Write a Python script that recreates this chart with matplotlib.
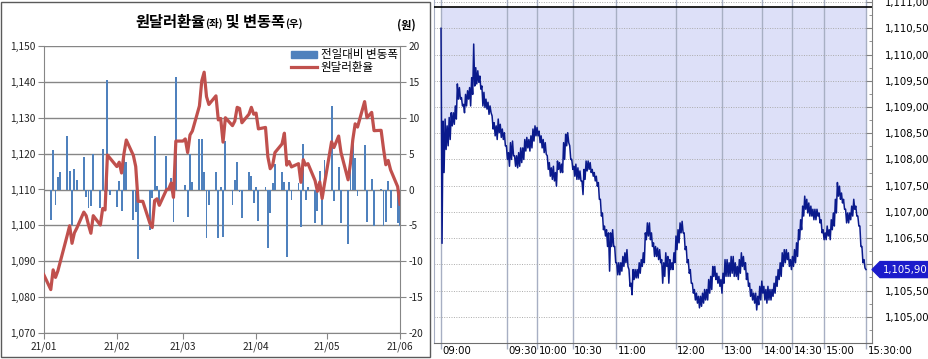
import numpy as np
import pandas as pd
import matplotlib
matplotlib.use("Agg")
import matplotlib.pyplot as plt
import matplotlib.dates as mdates
from matplotlib import font_manager
from matplotlib.lines import Line2D
from matplotlib.patches import Patch, Rectangle, Polygon
from matplotlib.ticker import FuncFormatter, MultipleLocator, FixedLocator
from matplotlib.transforms import blended_transform_factory, offset_copy
from matplotlib.offsetbox import TextArea, HPacker, AnchoredOffsetbox

plt.rcParams['font.family'] = ['Noto Sans CJK KR', 'DejaVu Sans']
plt.rcParams['axes.unicode_minus'] = False

installed = {f.name for f in font_manager.fontManager.ttflist}
if 'Liberation Sans Narrow' in installed:
    NUM_FONT, NUM_SIZE = 'Liberation Sans Narrow', 9.0
else:
    NUM_FONT, NUM_SIZE = 'DejaVu Sans', 7.3

# ---- daily data (left chart) ----
trade_dates = [
    '2021-01-01', '2021-01-04', '2021-01-05', '2021-01-06', '2021-01-07', '2021-01-08',
    '2021-01-11', '2021-01-12', '2021-01-13', '2021-01-14', '2021-01-15',
    '2021-01-18', '2021-01-19', '2021-01-20', '2021-01-21', '2021-01-22',
    '2021-01-25', '2021-01-26', '2021-01-27', '2021-01-28', '2021-01-29',
    '2021-02-01', '2021-02-02', '2021-02-03', '2021-02-04', '2021-02-05',
    '2021-02-08', '2021-02-09', '2021-02-10', '2021-02-11', '2021-02-12',
    '2021-02-15', '2021-02-16', '2021-02-17', '2021-02-18', '2021-02-19',
    '2021-02-22', '2021-02-23', '2021-02-24', '2021-02-25', '2021-02-26',
    '2021-03-01', '2021-03-02', '2021-03-03', '2021-03-04', '2021-03-05',
    '2021-03-08', '2021-03-09', '2021-03-10', '2021-03-11', '2021-03-12',
    '2021-03-15', '2021-03-16', '2021-03-17', '2021-03-18', '2021-03-19',
    '2021-03-22', '2021-03-23', '2021-03-24', '2021-03-25', '2021-03-26',
    '2021-03-29', '2021-03-30', '2021-03-31', '2021-04-01', '2021-04-02',
    '2021-04-05', '2021-04-06', '2021-04-07', '2021-04-08', '2021-04-09',
    '2021-04-12', '2021-04-13', '2021-04-14', '2021-04-15', '2021-04-16',
    '2021-04-19', '2021-04-20', '2021-04-21', '2021-04-22', '2021-04-23',
    '2021-04-26', '2021-04-27', '2021-04-28', '2021-04-29', '2021-04-30',
    '2021-05-03', '2021-05-04', '2021-05-06', '2021-05-07',
    '2021-05-10', '2021-05-11', '2021-05-12', '2021-05-13', '2021-05-14',
    '2021-05-17', '2021-05-18', '2021-05-20', '2021-05-21',
    '2021-05-24', '2021-05-25', '2021-05-26', '2021-05-27', '2021-05-28',
    '2021-05-31', '2021-06-01',
]
usdkrw_close = [
    1086.3, 1082.1, 1087.6, 1085.5, 1087.3, 1089.8,
    1097.3, 1099.9, 1095.0, 1097.9, 1099.2,
    1103.7, 1102.7, 1100.1, 1097.8, 1102.7,
    1100.1, 1104.7, 1104.3, 1119.6, 1118.8,
    1116.4, 1117.6, 1114.6, 1119.9, 1123.8,
    1119.5, 1116.4, 1106.7, 1106.7, 1106.7,
    1100.6, 1099.4, 1106.9, 1107.4, 1105.6,
    1109.9, 1110.2, 1111.8, 1107.8, 1123.5,
    1123.5, 1124.1, 1120.3, 1125.2, 1126.3,
    1133.3, 1140.3, 1142.7, 1135.9, 1133.7,
    1136.1, 1129.4, 1129.8, 1123.2, 1130.0,
    1127.8, 1129.1, 1132.9, 1132.6, 1128.6,
    1131.0, 1132.9, 1131.0, 1131.3, 1126.9,
    1127.3, 1119.1, 1115.8, 1116.7, 1120.3,
    1122.7, 1125.7, 1116.8, 1117.8, 1116.3,
    1117.2, 1112.0, 1118.3, 1116.8, 1117.2,
    1112.5, 1109.5, 1112.1, 1107.5, 1111.6,
    1123.3, 1121.7, 1124.9, 1120.3,
    1112.7, 1117.3, 1123.9, 1128.3, 1127.4,
    1134.5, 1130.0, 1131.5, 1126.4,
    1126.5, 1121.4, 1116.9, 1118.1, 1115.5,
    1110.8, 1105.9,
]
daily_change = [
    np.nan, -4.2, 5.5, -2.1, 1.8, 2.5,
    7.5, 2.6, -4.9, 2.9, 1.3,
    4.5, -1.0, -2.6, -2.3, 4.9,
    -2.6, 5.7, -0.4, 15.3, -0.8,
    -2.4, 1.2, -3.0, 5.3, 3.9,
    -4.3, -3.1, -9.7, 0.0, 0.0,
    -5.6, -1.2, 7.5, 0.5, -1.8,
    4.6, 0.3, 1.6, -4.5, 15.7,
    0.0, 0.6, -3.8, 4.9, 1.1,
    7.0, 7.0, 2.4, -6.8, -2.2,
    2.4, -6.7, 0.4, -6.6, 6.8,
    -2.2, 1.3, 3.8, -0.3, -4.0,
    2.4, 1.9, -1.9, 0.3, -4.4,
    0.4, -8.2, -3.3, 0.9, 3.6,
    2.4, 1.0, -9.4, 1.0, -1.5,
    0.9, -5.2, 6.3, -1.5, 0.4,
    -4.7, -3.0, 2.6, -4.9, 4.1,
    11.7, -1.6, 3.2, -4.6,
    -7.6, 4.6, 6.6, 4.4, -0.9,
    6.2, -4.5, 1.5, -5.1,
    0.1, -5.1, -4.5, 1.2, -2.6,
    -4.7, -5.1,
]
month_labels_fmt = '%y/%m'

# ---- intraday data (right chart), read left to right ----
open_spike = [1110.50, 1106.40]
tick_hi = [
    1108.73, 1108.77, 1108.64, 1108.80, 1108.89, 1108.89, 1109.02, 1109.44, 1109.37, 1109.18,
    1109.05, 1109.24, 1109.31, 1109.37, 1109.56, 1110.20, 1109.75, 1109.69, 1109.59, 1109.40,
    1109.28, 1109.15, 1109.09, 1109.02, 1108.83, 1108.70, 1108.64, 1108.77, 1108.67, 1108.58,
    1108.51, 1108.26, 1108.13, 1108.32, 1108.35, 1108.07, 1108.07, 1108.13, 1108.22, 1108.22,
    1108.38, 1108.42, 1108.38, 1108.45, 1108.58, 1108.64, 1108.61, 1108.54, 1108.45, 1108.38,
    1108.32, 1108.07, 1107.94, 1107.84, 1107.87, 1107.75, 1107.97, 1107.94, 1107.91, 1108.32,
    1108.48, 1108.51, 1108.26, 1108.00, 1107.87, 1107.91, 1107.84, 1107.78, 1107.59, 1107.81,
    1107.97, 1107.97, 1107.94, 1107.81, 1107.75, 1107.68, 1107.56, 1107.24, 1106.98, 1106.73,
    1106.66, 1106.60, 1106.60, 1106.66, 1106.34, 1106.03, 1106.03, 1106.03, 1106.15, 1106.22,
    1106.28, 1105.90, 1105.64, 1105.90, 1105.90, 1105.90, 1106.03, 1106.09, 1106.22, 1106.60,
    1106.79,
    1106.79, 1106.60, 1106.41, 1106.34, 1106.31, 1106.28, 1106.09, 1106.03, 1106.22, 1106.15,
    1106.09, 1106.03, 1106.22, 1106.54, 1106.66, 1106.79, 1106.82, 1106.60, 1106.34, 1106.09,
    1105.90, 1105.64, 1105.52, 1105.45, 1105.39, 1105.39, 1105.45, 1105.52, 1105.52, 1105.71,
    1105.77, 1105.96, 1105.96, 1105.83, 1105.77, 1105.71, 1105.83, 1106.09, 1106.09, 1106.03,
    1106.15, 1106.15, 1106.03, 1105.96, 1106.09, 1106.22, 1106.15, 1106.03, 1105.83, 1105.64,
    1105.52, 1105.45, 1105.45, 1105.39, 1105.58, 1105.68, 1105.58, 1105.52, 1105.58, 1105.52,
    1105.52, 1105.64, 1105.77, 1105.90, 1106.03, 1106.22, 1106.28, 1106.28, 1106.22, 1106.09,
    1106.15, 1106.28, 1106.41, 1106.66, 1106.85, 1107.11, 1107.30, 1107.24, 1107.17, 1107.11,
    1107.05, 1107.05, 1107.05, 1106.98, 1106.85, 1106.66, 1106.60, 1106.73, 1106.66, 1106.85,
    1106.98, 1107.24, 1107.56, 1107.49, 1107.36, 1107.24, 1107.05, 1106.98, 1106.98, 1107.11,
    1107.24, 1107.11, 1106.92, 1106.73, 1106.34, 1106.09,
]
tick_lo = [
    1107.75, 1108.19, 1108.26, 1108.38, 1108.64, 1108.67, 1108.77, 1109.15, 1109.15, 1109.02,
    1108.89, 1109.02, 1109.15, 1109.02, 1109.24, 1109.40, 1109.44, 1109.47, 1109.34, 1109.02,
    1108.99, 1108.96, 1108.86, 1108.89, 1108.58, 1108.45, 1108.38, 1108.51, 1108.42, 1108.38,
    1108.26, 1108.00, 1107.87, 1108.00, 1108.07, 1107.87, 1107.84, 1107.87, 1107.94, 1108.00,
    1108.16, 1108.22, 1108.16, 1108.22, 1108.35, 1108.45, 1108.45, 1108.32, 1108.22, 1108.13,
    1108.10, 1107.81, 1107.68, 1107.62, 1107.59, 1107.49, 1107.81, 1107.75, 1107.75, 1108.00,
    1108.26, 1108.32, 1108.00, 1107.81, 1107.68, 1107.62, 1107.62, 1107.59, 1107.33, 1107.62,
    1107.78, 1107.81, 1107.75, 1107.68, 1107.59, 1107.49, 1107.24, 1106.92, 1106.66, 1106.54,
    1106.34, 1105.87, 1106.34, 1106.34, 1106.03, 1105.80, 1105.80, 1105.87, 1105.96, 1106.03,
    1105.96, 1105.58, 1105.42, 1105.71, 1105.74, 1105.74, 1105.83, 1105.96, 1106.03, 1106.47,
    1106.54,
    1106.47, 1106.34, 1106.15, 1106.15, 1106.09, 1106.03, 1105.64, 1105.77, 1105.96, 1105.64,
    1105.90, 1105.90, 1106.03, 1106.28, 1106.41, 1106.60, 1106.60, 1106.28, 1106.03, 1105.83,
    1105.64, 1105.45, 1105.32, 1105.26, 1105.17, 1105.20, 1105.26, 1105.32, 1105.32, 1105.45,
    1105.52, 1105.77, 1105.71, 1105.64, 1105.58, 1105.45, 1105.64, 1105.77, 1105.77, 1105.77,
    1105.83, 1105.77, 1105.77, 1105.71, 1105.83, 1105.96, 1105.90, 1105.71, 1105.58, 1105.39,
    1105.32, 1105.26, 1105.13, 1105.23, 1105.32, 1105.45, 1105.32, 1105.26, 1105.32, 1105.32,
    1105.39, 1105.45, 1105.58, 1105.71, 1105.77, 1105.96, 1106.03, 1106.09, 1105.96, 1105.90,
    1105.96, 1106.03, 1106.15, 1106.47, 1106.66, 1106.92, 1107.05, 1106.98, 1106.92, 1106.92,
    1106.85, 1106.85, 1106.92, 1106.79, 1106.60, 1106.47, 1106.47, 1106.54, 1106.47, 1106.66,
    1106.73, 1106.98, 1107.30, 1107.24, 1107.17, 1107.05, 1106.79, 1106.79, 1106.85, 1106.92,
    1107.05, 1106.92, 1106.73, 1106.34, 1106.03, 1105.93,
]
close_price = 1105.90
time_labels = ['09:00', '09:30', '10:00', '10:30', '11:00', '12:00',
               '13:00', '14:00', '14:30', '15:00', '15:30:00']
# where each time falls along the tick-count axis (0 = open, 1 = close)
time_tick_pos = [0.0, 0.156, 0.2266, 0.3099, 0.4125, 0.5522,
                 0.6619, 0.756, 0.8266, 0.9019, 1.0]

BAR_BLUE = '#4F81BD'
LINE_RED = '#C0504D'
AX_GRAY = '#868686'

W, H = 929, 359
fig = plt.figure(figsize=(W / 100, H / 100), dpi=100)


def px_box(left, top, right, bottom):
    return [left / W, 1 - bottom / H, (right - left) / W, (bottom - top) / H]


# ================= left chart =================
dates = pd.to_datetime(trade_dates)
ax = fig.add_axes(px_box(43.7, 46, 400, 333))
axb = ax.twinx()
ax.set_zorder(axb.get_zorder() + 1)
ax.patch.set_visible(False)

axb.bar(dates, daily_change, width=0.8, color=BAR_BLUE, zorder=2)
axb.set_ylim(-20, 20)
axb.yaxis.set_major_locator(MultipleLocator(5))
axb.yaxis.set_major_formatter(FuncFormatter(lambda v, p: f"{v:.0f}"))
axb.grid(axis='y', color=AX_GRAY, lw=1.0)
axb.set_axisbelow(True)

ax.plot(dates, usdkrw_close, color=LINE_RED, lw=2.3, solid_joinstyle='round', zorder=3)
ax.set_ylim(1070, 1150)
ax.yaxis.set_major_locator(MultipleLocator(10))
ax.yaxis.set_major_formatter(FuncFormatter(lambda v, p: f"{v:,.0f}"))
ax.set_xlim(pd.Timestamp('2021-01-01'), pd.Timestamp('2021-06-01'))
ax.xaxis.set_major_locator(mdates.MonthLocator())
ax.xaxis.set_major_formatter(mdates.DateFormatter(month_labels_fmt))

for a in (ax, axb):
    for s in a.spines.values():
        s.set_color(AX_GRAY)
    a.spines['top'].set_visible(False)
ax.spines['right'].set_visible(False)
axb.spines['left'].set_visible(False)
axb.spines['bottom'].set_visible(False)

tick_style = dict(length=4, color=AX_GRAY, labelsize=7.3, pad=2, labelcolor='#222222')
ax.tick_params(axis='y', **tick_style)
axb.tick_params(axis='y', **tick_style)
ax.tick_params(axis='x', **tick_style)

handles = [Patch(color=BAR_BLUE), Line2D([], [], color=LINE_RED, lw=2.3)]
ax.legend(handles, ['전일대비 변동폭', '원달러환율'], loc='upper right',
          bbox_to_anchor=(1.0, 1.0), frameon=False, fontsize=8.3,
          handlelength=2.3, handleheight=0.6, handletextpad=0.3,
          labelspacing=0.0, borderpad=0.15, borderaxespad=0.05)

title_parts = [
    TextArea('원달러환율', textprops=dict(size=11, weight='bold')),
    TextArea('(좌)', textprops=dict(size=7.5, weight='bold')),
    TextArea(' 및 변동폭', textprops=dict(size=11, weight='bold')),
    TextArea('(우)', textprops=dict(size=7.5, weight='bold')),
]
title_box = AnchoredOffsetbox(loc='center',
                              child=HPacker(children=title_parts, align='baseline', pad=0, sep=0),
                              bbox_to_anchor=(219 / W, 1 - 22 / H),
                              bbox_transform=fig.transFigure, frameon=False, pad=0, borderpad=0)
fig.add_artist(title_box)
fig.text(406 / W, 1 - 25 / H, '(원)', ha='center', va='center', fontsize=8, weight='bold')

fig.add_artist(Rectangle((1 / W, 1 - 357 / H), 429 / W, 355 / H, transform=fig.transFigure,
                         fill=False, ec='#5A5A5A', lw=1.0))

# ================= right chart =================
path = list(open_spike)
for hi, lo in zip(tick_hi, tick_lo):
    path += [hi, lo]
path.append(close_price)
path = np.array(path)
xs = np.linspace(0, 1, len(path))

TOP_PRICE = 1110.91
GRID_BLUE = '#A7AFC3'
axr = fig.add_axes(px_box(434, 0, 872, 343))
axr.set_xlim(-0.0165, 1.0141)
axr.set_ylim(1104.5, 1111.04)
axr.fill_between(xs, path, TOP_PRICE, color='#DDE0F8', lw=0, zorder=1)
axr.plot(xs, path, color='#0A1A8C', lw=1.1, zorder=3)
axr.axhline(TOP_PRICE, color='black', lw=1.2, zorder=4)


def price_label(v, pos):
    # the 1,106,00 label sits under the current-price marker
    if v < 1104.9 or abs(v - close_price) < 0.2:
        return ''
    return f"{v:,.2f}".replace('.', ',')


axr.yaxis.tick_right()
axr.yaxis.set_major_locator(MultipleLocator(0.5))
axr.yaxis.set_minor_locator(MultipleLocator(0.25))
axr.yaxis.set_major_formatter(FuncFormatter(price_label))
axr.grid(axis='y', which='major', color='#ABABAB', lw=0.7, ls=(0, (1, 1.5)), zorder=0)
axr.xaxis.set_major_locator(FixedLocator(time_tick_pos))
axr.grid(axis='x', color=GRID_BLUE, lw=1.0, zorder=2)
axr.tick_params(axis='x', length=4, color=GRID_BLUE, width=1.0, labelbottom=False)
axr.tick_params(axis='y', which='major', direction='in', length=4, color='#808080',
                pad=9, labelsize=NUM_SIZE, labelfontfamily=NUM_FONT, labelcolor='black')
axr.tick_params(axis='y', which='minor', direction='in', length=2, color='#808080')
axr.spines['top'].set_visible(False)
axr.spines['right'].set_color('#808080')
axr.spines['bottom'].set_color('#6E6E6E')
axr.spines['left'].set_color(GRID_BLUE)

lab_tr = offset_copy(blended_transform_factory(axr.transData, axr.transAxes),
                     fig=fig, x=1.5, y=-3, units='dots')
for pos, lab in zip(time_tick_pos, time_labels):
    axr.text(pos, 0, lab, transform=lab_tr, ha='left', va='top',
             fontsize=NUM_SIZE, family=NUM_FONT, clip_on=False)

# current price marker on the right axis
lo_lim, hi_lim = axr.get_ylim()
px_per_unit = 343 / (hi_lim - lo_lim)
half = 8 / px_per_unit
mk_tr = blended_transform_factory(fig.transFigure, axr.transData)
marker = Polygon([(872 / W, close_price), (880 / W, close_price + half), (1.0, close_price + half),
                  (1.0, close_price - half), (880 / W, close_price - half)],
                 closed=True, transform=mk_tr, fc='#1C1CCB', ec='#1C1CCB', clip_on=False, zorder=10)
fig.add_artist(marker)
fig.text(883 / W, close_price, f"{close_price:,.2f}".replace('.', ','), transform=mk_tr,
         ha='left', va='center', color='white', fontsize=NUM_SIZE, family=NUM_FONT, zorder=11)

fig.savefig('out.png', dpi=100)
